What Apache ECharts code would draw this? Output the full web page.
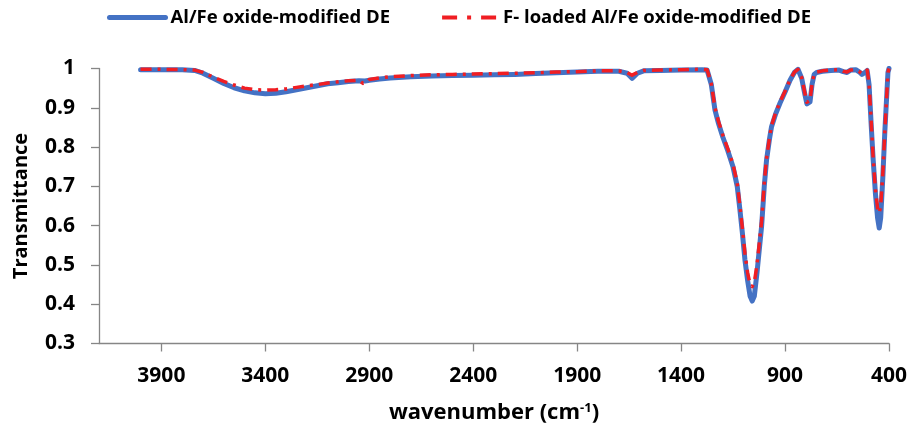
<!DOCTYPE html>
<html>
<head>
<meta charset="utf-8">
<script src="https://cdn.jsdelivr.net/npm/echarts@6/dist/echarts.min.js"></script>
<style>
html,body{margin:0;padding:0;background:#fff;}
#chart{width:911px;height:429px;}
</style>
</head>
<body>
<div id="chart"></div>
<script>
// Wavenumbers (cm-1) and transmittance values
const waveBlue = [4000,3900,3800,3740,3700,3650,3600,3550,3500,3450,3400,3350,3300,3250,3200,3150,3100,3050,3000,2950,2920,2900,2850,2800,2700,2600,2500,2400,2300,2200,2100,2000,1900,1800,1700,1660,1636,1610,1580,1500,1400,1300,1275,1255,1237,1220,1199,1175,1150,1130,1117,1105,1093,1080,1068,1058,1048,1035,1013,1000,989,975,965,945,924,900,876,855,838,820,805,795,788,780,770,760,748,720,680,640,620,602,585,560,540,530,515,505,496,485,476,465,455,447,440,430,420,410,405,400];
const transBlue = [0.997,0.997,0.997,0.995,0.988,0.975,0.962,0.951,0.943,0.938,0.936,0.937,0.941,0.946,0.951,0.956,0.961,0.964,0.967,0.969,0.968,0.970,0.973,0.976,0.979,0.981,0.982,0.983,0.984,0.985,0.987,0.989,0.991,0.993,0.993,0.988,0.975,0.988,0.994,0.995,0.996,0.997,0.996,0.960,0.894,0.860,0.825,0.790,0.749,0.700,0.640,0.580,0.513,0.460,0.420,0.408,0.420,0.480,0.597,0.700,0.767,0.820,0.852,0.885,0.912,0.940,0.970,0.990,0.998,0.975,0.935,0.910,0.907,0.915,0.960,0.985,0.990,0.993,0.995,0.996,0.992,0.990,0.996,0.997,0.990,0.985,0.990,0.995,0.960,0.850,0.767,0.680,0.620,0.594,0.620,0.720,0.840,0.940,0.990,1.000];

const waveRed = [4000,3900,3800,3740,3700,3650,3600,3550,3500,3450,3400,3350,3300,3250,3200,3150,3100,3050,3000,2950,2930,2910,2900,2850,2800,2700,2600,2500,2400,2300,2200,2100,2000,1900,1800,1700,1660,1636,1610,1580,1500,1400,1300,1275,1255,1237,1220,1199,1175,1150,1130,1117,1105,1093,1080,1068,1058,1048,1035,1013,1000,989,975,965,945,924,900,876,855,838,820,805,795,788,780,770,760,748,720,680,640,620,602,585,560,540,530,515,505,496,485,476,465,455,447,440,430,420,410,405,400];
const transRed = [0.998,0.998,0.997,0.996,0.990,0.978,0.967,0.958,0.950,0.946,0.945,0.946,0.948,0.952,0.956,0.959,0.963,0.966,0.969,0.970,0.962,0.965,0.972,0.976,0.979,0.982,0.984,0.985,0.986,0.987,0.988,0.989,0.991,0.992,0.994,0.994,0.990,0.983,0.990,0.995,0.996,0.997,0.998,0.997,0.962,0.900,0.865,0.830,0.795,0.755,0.708,0.650,0.592,0.530,0.480,0.450,0.445,0.455,0.500,0.610,0.708,0.772,0.823,0.855,0.888,0.915,0.942,0.972,0.991,0.998,0.977,0.938,0.914,0.912,0.918,0.962,0.986,0.991,0.994,0.996,0.997,0.993,0.991,0.996,0.997,0.991,0.987,0.991,0.996,0.962,0.860,0.770,0.690,0.645,0.632,0.650,0.730,0.840,0.940,0.990,1.000];

const xTicks = [3900,3400,2900,2400,1900,1400,900,400];
const yTicks = [0.3,0.4,0.5,0.6,0.7,0.8,0.9,1];
const seriesNames = ['Al/Fe oxide-modified DE','F- loaded Al/Fe oxide-modified DE'];

const FONT = 'Open Sans';
const BLUE = '#4472C4', RED = '#F01E23';
const chart = echarts.init(document.getElementById('chart'), null, {renderer:'canvas'});
const axisColor = '#868686';

chart.setOption({
  animation: false,
  backgroundColor: '#ffffff',
  grid: {left: 99, right: 22, top: 68.5, bottom: 85.5, containLabel: false},
  legend: {
    left: 102, top: 3,
    itemWidth: 56, itemHeight: 14, itemGap: 50,
    textStyle: {fontFamily: FONT, fontWeight: 'bold', fontSize: 18.5, color: '#000'},
    data: [
      {name: seriesNames[0], itemStyle: {opacity: 0}, lineStyle: {color: BLUE, width: 5, type: 'solid'}},
      {name: seriesNames[1], itemStyle: {opacity: 0}, lineStyle: {color: RED, width: 4, type: [15, 10, 4, 10]}}
    ]
  },
  xAxis: {
    type: 'value', min: 400, max: 4200, inverse: true,
    axisLine: {show: true, onZero: false, lineStyle: {color: axisColor, width: 1.3}},
    axisTick: {show: true, inside: false, length: 8, customValues: xTicks, lineStyle: {color: axisColor, width: 1.3}},
    axisLabel: {customValues: xTicks, margin: 22, fontFamily: FONT, fontWeight: 'bold', fontSize: 21, color: '#000',
      formatter: v => String(v)},
    splitLine: {show: false},
    name: 'wavenumber (cm{sup|-1})',
    nameLocation: 'middle', nameGap: 58,
    nameTextStyle: {fontFamily: FONT, fontWeight: 'bold', fontSize: 22, color: '#000',
      rich: {sup: {fontFamily: FONT, fontWeight: 'bold', fontSize: 13, verticalAlign: 'top', padding: [0,0,10,0], color: '#000'}}}
  },
  yAxis: {
    type: 'value', min: 0.3, max: 1, interval: 0.1,
    axisLine: {show: true, lineStyle: {color: axisColor, width: 1.3}},
    axisTick: {show: true, inside: false, length: 8, lineStyle: {color: axisColor, width: 1.3}},
    axisLabel: {margin: 24, fontFamily: FONT, fontWeight: 'bold', fontSize: 21, color: '#000',
      formatter: v => String(Math.round(v*10)/10)},
    splitLine: {show: false},
    name: 'Transmittance', nameLocation: 'middle', nameGap: 68,
    nameTextStyle: {fontFamily: FONT, fontWeight: 'bold', fontSize: 20, color: '#000'}
  },
  series: [
    {
      name: seriesNames[0], type: 'line', showSymbol: false, symbol: 'none',
      data: waveBlue.map((w,i) => [w, transBlue[i]]),
      lineStyle: {color: BLUE, width: 5, cap: 'round', join: 'round'},
      itemStyle: {color: BLUE},
      z: 2
    },
    {
      name: seriesNames[1], type: 'line', showSymbol: false, symbol: 'none',
      data: waveRed.map((w,i) => [w, transRed[i]]),
      lineStyle: {color: RED, width: 3.5, type: [11, 6, 3, 6], join: 'round'},
      itemStyle: {color: RED},
      z: 3
    }
  ]
});
</script>
</body>
</html>
